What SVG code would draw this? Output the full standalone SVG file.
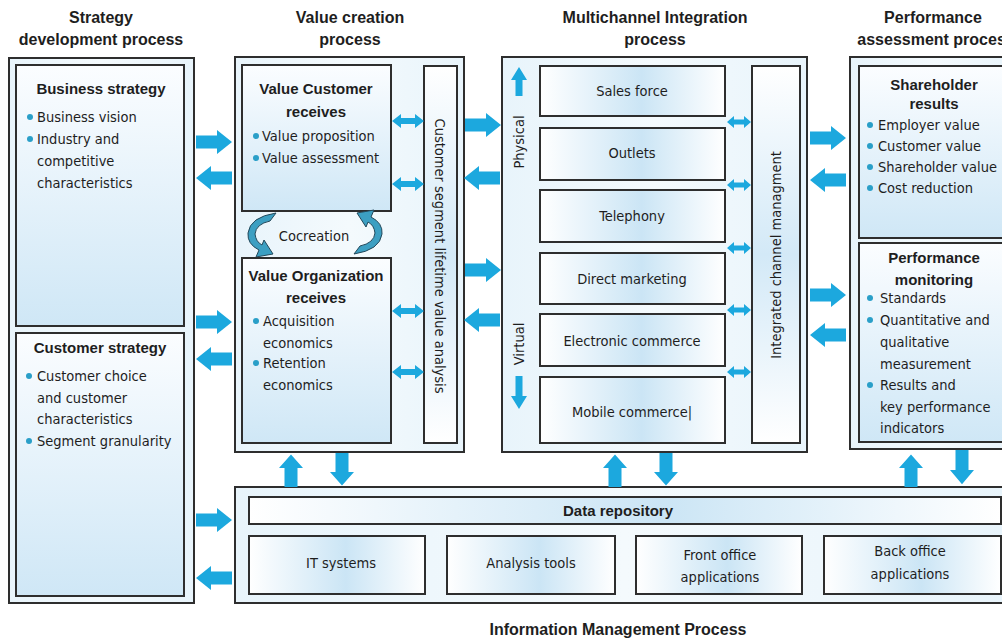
<svg xmlns="http://www.w3.org/2000/svg" width="1002" height="638" viewBox="0 0 1002 638">
  <defs>
    <linearGradient id="gBox" x1="0" y1="0" x2="0" y2="1">
      <stop offset="0" stop-color="#fbfdff"/>
      <stop offset="1" stop-color="#cfe7f6"/>
    </linearGradient>
    <linearGradient id="gOuter" x1="0" y1="0" x2="1" y2="0">
      <stop offset="0" stop-color="#e8f4fb"/>
      <stop offset="0.5" stop-color="#f4fafd"/>
      <stop offset="1" stop-color="#e8f4fb"/>
    </linearGradient>
    <linearGradient id="gBar" x1="0" y1="0" x2="1" y2="0">
      <stop offset="0" stop-color="#ffffff"/>
      <stop offset="0.55" stop-color="#cbe5f5"/>
      <stop offset="1" stop-color="#ffffff"/>
    </linearGradient>
    <linearGradient id="gCol" x1="0" y1="0" x2="0" y2="1">
      <stop offset="0" stop-color="#ffffff"/>
      <stop offset="0.5" stop-color="#d3e9f7"/>
      <stop offset="1" stop-color="#ffffff"/>
    </linearGradient>
    <!-- wide block arrow pointing right, origin at tail centre -->
    <path id="arR" d="M0,-6.5 H21 V-12 L36,0 L21,12 V6.5 H0 Z"/>
    <!-- small double-headed arrows -->
    <path id="dbl" d="M0,0 L9,-7 V-3 H23 V-7 L32,0 L23,7 V3 H9 V7 Z"/>
    <path id="dblS" d="M0,0 L7,-6 V-2.5 H17 V-6 L24,0 L17,6 V2.5 H7 V6 Z"/>
  </defs>
  <style>
    .outer { fill: url(#gOuter); stroke: #2e2e2e; stroke-width: 2; }
    .box { fill: url(#gBox); stroke: #2e2e2e; stroke-width: 2; }
    .bar { fill: url(#gBar); stroke: #2e2e2e; stroke-width: 2; }
    .col { fill: url(#gCol); stroke: #2e2e2e; stroke-width: 2; }
    .hd { font-family: "Liberation Sans", Arial, sans-serif; font-weight: bold; font-size: 15px; fill: #1e1e1e; text-anchor: middle; }
    .ttl { font-size: 16px; }
    .tx { font-family: "Liberation Sans Narrow", "DejaVu Sans Condensed", "Liberation Sans", sans-serif; font-size: 14.5px; fill: #1e1e1e; }
    .mid { text-anchor: middle; }
    .dot { fill: #2a9fc8; }
    .arw { fill: #1ca8de; }
    .cyc { fill: #3c9fc2; stroke: #23485a; stroke-width: 1; }
  </style>

  <!-- column headings -->
  <g id="headings">
    <text class="hd ttl" x="101" y="23">Strategy</text>
    <text class="hd ttl" x="101" y="45">development process</text>
    <text class="hd ttl" x="350" y="23">Value creation</text>
    <text class="hd ttl" x="350" y="45">process</text>
    <text class="hd ttl" x="655" y="23">Multichannel Integration</text>
    <text class="hd ttl" x="655" y="45">process</text>
    <text class="hd ttl" x="933" y="23">Performance</text>
    <text class="hd ttl" x="936" y="45">assessment process</text>
    <text class="hd ttl" x="618" y="635">Information Management Process</text>
  </g>

  <!-- strategy development process -->
  <g id="strategy">
    <rect class="outer" x="9" y="58" width="185" height="545"/>
    <g id="business-strategy">
      <rect class="box" x="16" y="65" width="168" height="261"/>
      <text class="hd" x="101" y="94">Business strategy</text>
      <circle class="dot" cx="30" cy="117" r="3"/>
      <text class="tx" x="37" y="122">Business vision</text>
      <circle class="dot" cx="30" cy="139" r="3"/>
      <text class="tx" x="37" y="144">Industry and</text>
      <text class="tx" x="37" y="166">competitive</text>
      <text class="tx" x="37" y="188">characteristics</text>
    </g>
    <g id="customer-strategy">
      <rect class="box" x="16" y="333" width="168" height="263"/>
      <text class="hd" x="100" y="353">Customer strategy</text>
      <circle class="dot" cx="29" cy="376" r="3"/>
      <text class="tx" x="37" y="381">Customer choice</text>
      <text class="tx" x="37" y="403">and customer</text>
      <text class="tx" x="37" y="424">characteristics</text>
      <circle class="dot" cx="29" cy="441" r="3"/>
      <text class="tx" x="37" y="446">Segment granularity</text>
    </g>
  </g>

  <!-- value creation process -->
  <g id="value-creation">
    <rect class="outer" x="235" y="57" width="229" height="395"/>
    <g id="value-customer">
      <rect class="box" x="242" y="65" width="149" height="146"/>
      <text class="hd" x="316" y="94">Value Customer</text>
      <text class="hd" x="316" y="117">receives</text>
      <circle class="dot" cx="256" cy="136" r="3"/>
      <text class="tx" x="262" y="141">Value proposition</text>
      <circle class="dot" cx="256" cy="158" r="3"/>
      <text class="tx" x="262" y="163">Value assessment</text>
    </g>
    <g id="cocreation">
      <path class="cyc" d="M276,213 L270,221 Q256,224 255,234 Q256,242 262,245 L264,240 L273,254 L256,257 L259,250 Q247,244 248,233 Q250,217 276,213 Z"/>
      <path class="cyc" d="M354,254 L360,246 Q374,243 375,233 Q374,225 368,222 L366,227 L357,213 L374,210 L371,217 Q383,223 382,234 Q380,250 354,254 Z"/>
      <text class="tx mid" x="314" y="241">Cocreation</text>
    </g>
    <g id="value-organization">
      <rect class="box" x="242" y="258" width="149" height="185"/>
      <text class="hd" x="316" y="281">Value Organization</text>
      <text class="hd" x="316" y="303">receives</text>
      <circle class="dot" cx="256" cy="321" r="3"/>
      <text class="tx" x="263" y="326">Acquisition</text>
      <text class="tx" x="263" y="348">economics</text>
      <circle class="dot" cx="256" cy="363" r="3"/>
      <text class="tx" x="263" y="368">Retention</text>
      <text class="tx" x="263" y="390">economics</text>
    </g>
    <g id="segment-analysis">
      <rect class="col" x="424" y="66" width="33" height="377"/>
      <text class="tx mid" transform="translate(435 256) rotate(90)">Customer segment lifetime value analysis</text>
    </g>
  </g>

  <!-- multichannel integration process -->
  <g id="multichannel">
    <rect class="outer" x="502" y="57" width="305" height="395"/>
    <g id="channel-direction">
      <path class="arw" d="M519,67 L527,80 L522.5,80 L522.5,96 L515.5,96 L515.5,80 L511,80 Z"/>
      <text class="tx mid" transform="translate(524 142) rotate(-90)">Physical</text>
      <text class="tx mid" transform="translate(524 344) rotate(-90)">Virtual</text>
      <path class="arw" d="M519,409 L527,396 L522.5,396 L522.5,376 L515.5,376 L515.5,396 L511,396 Z"/>
    </g>
    <g id="sales-force">
      <rect class="bar" x="540" y="66" width="185" height="50"/>
      <text class="tx mid" x="632" y="96">Sales force</text>
    </g>
    <g id="outlets">
      <rect class="bar" x="540" y="128" width="185" height="52"/>
      <text class="tx mid" x="632" y="158">Outlets</text>
    </g>
    <g id="telephony">
      <rect class="bar" x="540" y="190" width="185" height="52"/>
      <text class="tx mid" x="632" y="221">Telephony</text>
    </g>
    <g id="direct-marketing">
      <rect class="bar" x="540" y="253" width="185" height="51"/>
      <text class="tx mid" x="632" y="284">Direct marketing</text>
    </g>
    <g id="electronic-commerce">
      <rect class="bar" x="540" y="314" width="185" height="52"/>
      <text class="tx mid" x="632" y="346">Electronic commerce</text>
    </g>
    <g id="mobile-commerce">
      <rect class="bar" x="540" y="377" width="185" height="66"/>
      <text class="tx mid" x="632" y="417">Mobile commerce|</text>
    </g>
    <g id="channel-management">
      <rect class="col" x="752" y="66" width="48" height="377"/>
      <text class="tx mid" transform="translate(781 255) rotate(-90)">Integrated channel managment</text>
    </g>
  </g>

  <!-- performance assessment process -->
  <g id="performance">
    <rect class="outer" x="850" y="57" width="170" height="392"/>
    <g id="shareholder-results">
      <rect class="box" x="859" y="66" width="160" height="172"/>
      <text class="hd" x="934" y="90">Shareholder</text>
      <text class="hd" x="934" y="109">results</text>
      <circle class="dot" cx="870" cy="125" r="3"/>
      <text class="tx" x="878" y="130">Employer value</text>
      <circle class="dot" cx="870" cy="146" r="3"/>
      <text class="tx" x="878" y="151">Customer value</text>
      <circle class="dot" cx="870" cy="167" r="3"/>
      <text class="tx" x="878" y="172">Shareholder value</text>
      <circle class="dot" cx="870" cy="188" r="3"/>
      <text class="tx" x="878" y="193">Cost reduction</text>
    </g>
    <g id="performance-monitoring">
      <rect class="box" x="859" y="243" width="160" height="199"/>
      <text class="hd" x="934" y="263">Performance</text>
      <text class="hd" x="934" y="285">monitoring</text>
      <circle class="dot" cx="870" cy="298" r="3"/>
      <text class="tx" x="880" y="303">Standards</text>
      <circle class="dot" cx="870" cy="320" r="3"/>
      <text class="tx" x="880" y="325">Quantitative and</text>
      <text class="tx" x="880" y="347">qualitative</text>
      <text class="tx" x="880" y="369">measurement</text>
      <circle class="dot" cx="870" cy="385" r="3"/>
      <text class="tx" x="880" y="390">Results and</text>
      <text class="tx" x="880" y="412">key performance</text>
      <text class="tx" x="880" y="433">indicators</text>
    </g>
  </g>

  <!-- information management process -->
  <g id="information-management">
    <rect class="outer" x="235" y="487" width="780" height="116"/>
    <g id="data-repository">
      <rect class="bar" x="249" y="497" width="752" height="27"/>
      <text class="hd" x="618" y="516">Data repository</text>
    </g>
    <g id="it-systems">
      <rect class="bar" x="249" y="536" width="176" height="58"/>
      <text class="tx mid" x="341" y="568">IT systems</text>
    </g>
    <g id="analysis-tools">
      <rect class="bar" x="447" y="536" width="168" height="58"/>
      <text class="tx mid" x="531" y="568">Analysis tools</text>
    </g>
    <g id="front-office">
      <rect class="bar" x="636" y="536" width="166" height="58"/>
      <text class="tx mid" x="720" y="560">Front office</text>
      <text class="tx mid" x="720" y="582">applications</text>
    </g>
    <g id="back-office">
      <rect class="bar" x="824" y="536" width="177" height="58"/>
      <text class="tx mid" x="910" y="556">Back office</text>
      <text class="tx mid" x="910" y="579">applications</text>
    </g>
  </g>

  <!-- connectors -->
  <g id="connectors" class="arw">
    <!-- strategy <-> value creation -->
    <use href="#arR" transform="translate(196 142)"/>
    <use href="#arR" transform="translate(232 178) scale(-1 1)"/>
    <use href="#arR" transform="translate(196 322)"/>
    <use href="#arR" transform="translate(232 359) scale(-1 1)"/>
    <!-- strategy <-> information management -->
    <use href="#arR" transform="translate(196 520)"/>
    <use href="#arR" transform="translate(232 578) scale(-1 1)"/>
    <!-- value creation <-> multichannel -->
    <use href="#arR" transform="translate(465 125)"/>
    <use href="#arR" transform="translate(500 178) scale(-1 1)"/>
    <use href="#arR" transform="translate(465 270)"/>
    <use href="#arR" transform="translate(500 320) scale(-1 1)"/>
    <!-- multichannel <-> performance -->
    <use href="#arR" transform="translate(810 138)"/>
    <use href="#arR" transform="translate(846 180) scale(-1 1)"/>
    <use href="#arR" transform="translate(810 295)"/>
    <use href="#arR" transform="translate(846 335) scale(-1 1)"/>
    <!-- processes <-> information management -->
    <use href="#arR" transform="translate(291 487) rotate(-90) scale(0.9 1)"/>
    <use href="#arR" transform="translate(342 453) rotate(90) scale(0.9 1)"/>
    <use href="#arR" transform="translate(615 487) rotate(-90) scale(0.9 1)"/>
    <use href="#arR" transform="translate(666 453) rotate(90) scale(0.9 1)"/>
    <use href="#arR" transform="translate(911 487) rotate(-90) scale(0.9 1)"/>
    <use href="#arR" transform="translate(962 450) rotate(90) scale(0.95 1)"/>
    <!-- value boxes <-> segment analysis -->
    <use href="#dbl" transform="translate(392 121)"/>
    <use href="#dbl" transform="translate(392 184)"/>
    <use href="#dbl" transform="translate(392 311)"/>
    <use href="#dbl" transform="translate(392 372)"/>
    <!-- channels <-> channel management -->
    <use href="#dblS" transform="translate(727 122)"/>
    <use href="#dblS" transform="translate(727 185)"/>
    <use href="#dblS" transform="translate(727 248)"/>
    <use href="#dblS" transform="translate(727 310)"/>
    <use href="#dblS" transform="translate(727 372)"/>
  </g>
</svg>
